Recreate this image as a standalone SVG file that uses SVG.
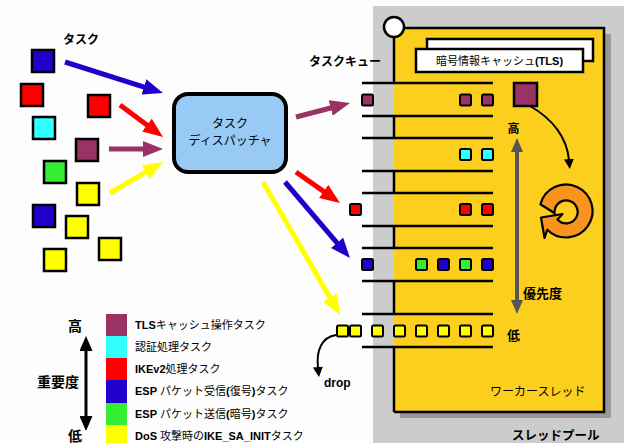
<svg xmlns="http://www.w3.org/2000/svg" width="624" height="443" viewBox="0 0 624 443">
<style>
text{font-family:"Liberation Sans","Noto Sans CJK JP",sans-serif;fill:#000}
.b{font-weight:bold}
.t{stroke:#000;stroke-width:2.5}
.s{stroke:#000;stroke-width:2}
.q{stroke:#000;stroke-width:2.5;fill:none}
.pu{fill:#993366}.cy{fill:#33ffff}.rd{fill:#ff0000}.bl{fill:#2200cc}.gr{fill:#33ee33}.ye{fill:#ffff00}
.arr{stroke-width:5;fill:none}
</style>
<defs>
<marker id="hPu" markerUnits="userSpaceOnUse" markerWidth="20" markerHeight="16" viewBox="0 0 20 16" refX="2" refY="8" orient="auto"><path d="M0,0L20,8L0,16Z" fill="#993366"/></marker>
<marker id="hRd" markerUnits="userSpaceOnUse" markerWidth="20" markerHeight="16" viewBox="0 0 20 16" refX="2" refY="8" orient="auto"><path d="M0,0L20,8L0,16Z" fill="#ff0000"/></marker>
<marker id="hBl" markerUnits="userSpaceOnUse" markerWidth="20" markerHeight="16" viewBox="0 0 20 16" refX="2" refY="8" orient="auto"><path d="M0,0L20,8L0,16Z" fill="#2200cc"/></marker>
<marker id="hYe" markerUnits="userSpaceOnUse" markerWidth="20" markerHeight="16" viewBox="0 0 20 16" refX="2" refY="8" orient="auto"><path d="M0,0L20,8L0,16Z" fill="#ffff00"/></marker>
<marker id="hK" markerUnits="userSpaceOnUse" markerWidth="10" markerHeight="10" viewBox="0 0 10 10" refX="1" refY="5" orient="auto"><path d="M0,0L10,5L0,10Z" fill="#000"/></marker>
<marker id="hG" markerUnits="userSpaceOnUse" markerWidth="14" markerHeight="12" viewBox="0 0 14 12" refX="1" refY="6" orient="auto-start-reverse"><path d="M0,0L14,6L0,12Z" fill="#555"/></marker>
<marker id="hL" markerUnits="userSpaceOnUse" markerWidth="15" markerHeight="13" viewBox="0 0 15 13" refX="1" refY="6.5" orient="auto-start-reverse"><path d="M0,0L15,6.5L0,13Z" fill="#000"/></marker>
</defs>
<rect width="624" height="443" fill="#fdfdfd"/>

<g id="thread-pool">
<rect x="373" y="6" width="251" height="437" fill="#cccccc"/>
<text x="512" y="440" font-size="12.5" class="b">スレッドプール</text>
</g>

<g id="worker-thread">
<rect x="400" y="34" width="211" height="384" fill="#999"/>
<rect x="394" y="28" width="210" height="384" fill="#fccf1f"/>
<path d="M394,28H604V412H394" class="q"/>
<path d="M394,37V83M394,116V138M394,171V193M394,226V248M394,281V314M394,347V412" class="q"/>
<circle cx="394" cy="27" r="10" fill="#fff" stroke="#000" stroke-width="2.5"/>
<text x="490" y="396" font-size="12">ワーカースレッド</text>
</g>

<g id="tls-cache">
<rect x="427" y="39" width="166" height="22" fill="#fff" class="t"/>
<rect x="416" y="49" width="167" height="23" fill="#fff" class="t"/>
<text x="499.5" y="65" font-size="11" text-anchor="middle">暗号情報キャッシュ<tspan class="b">(TLS)</tspan></text>
</g>

<g id="task-queue">
<text x="309" y="66" font-size="12" class="b">タスクキュー</text>
<path d="M362,83H493M362,116H493M362,138H493M362,171H493M362,193H493M362,226H493M362,248H493M362,281H493M362,314H493M362,347H493" class="q"/>
<g class="s">
<rect x="362" y="94.5" width="11" height="11" rx="1.5" class="pu"/>
<rect x="460" y="94.5" width="11" height="11" rx="1.5" class="pu"/>
<rect x="482" y="94.5" width="11" height="11" rx="1.5" class="pu"/>
<rect x="460" y="149" width="11" height="11" rx="1.5" class="cy"/>
<rect x="482" y="149" width="11" height="11" rx="1.5" class="cy"/>
<rect x="350" y="204" width="11" height="11" rx="1.5" class="rd"/>
<rect x="460" y="204" width="11" height="11" rx="1.5" class="rd"/>
<rect x="482" y="204" width="11" height="11" rx="1.5" class="rd"/>
<rect x="362" y="259" width="11" height="11" rx="1.5" class="bl"/>
<rect x="416" y="259" width="11" height="11" rx="1.5" class="gr"/>
<rect x="438" y="259" width="11" height="11" rx="1.5" class="bl"/>
<rect x="460" y="259" width="11" height="11" rx="1.5" class="gr"/>
<rect x="482" y="259" width="11" height="11" rx="1.5" class="bl"/>
<rect x="337" y="325.5" width="11" height="11" rx="1.5" class="ye"/>
<rect x="350" y="325.5" width="11" height="11" rx="1.5" class="ye"/>
<rect x="372" y="325.5" width="11" height="11" rx="1.5" class="ye"/>
<rect x="394" y="325.5" width="11" height="11" rx="1.5" class="ye"/>
<rect x="416" y="325.5" width="11" height="11" rx="1.5" class="ye"/>
<rect x="438" y="325.5" width="11" height="11" rx="1.5" class="ye"/>
<rect x="460" y="325.5" width="11" height="11" rx="1.5" class="ye"/>
<rect x="482" y="325.5" width="11" height="11" rx="1.5" class="ye"/>
</g>
</g>

<g id="active-task">
<rect x="514" y="83" width="23" height="23" class="pu t"/>
</g>

<g id="rotation">
<path d="M540.4,204.3A26.5,26.5 0 1 1 547.3,229.7L544.5,238L541,217.5L562.5,214L557.5,219.5A11.5,11.5 0 1 0 554.7,213.2Z" fill="#f7941d" stroke="#000" stroke-width="2.2" stroke-linejoin="round"/>
</g>

<g id="priority">
<line x1="517" y1="151" x2="517" y2="301" stroke="#555" stroke-width="4" marker-start="url(#hG)" marker-end="url(#hG)"/>
<text x="513.5" y="132.5" font-size="12" class="b" text-anchor="middle">高</text>
<text x="523" y="297.5" font-size="13" class="b">優先度</text>
<text x="513.5" y="340" font-size="13" class="b" text-anchor="middle">低</text>
</g>

<g id="dispatcher">
<rect x="174" y="94" width="112" height="78" rx="14" fill="#99c9f5" stroke="#000" stroke-width="4"/>
<text x="230" y="127.5" font-size="12" text-anchor="middle">タスク</text>
<text x="230" y="144.5" font-size="12" text-anchor="middle">ディスパッチャ</text>
</g>

<g id="tasks">
<text x="63" y="44" font-size="12" class="b">タスク</text>
<g class="t">
<rect x="32" y="50" width="22" height="22" class="bl"/>
<rect x="21" y="84" width="22" height="22" class="rd"/>
<rect x="88" y="95" width="22" height="22" class="rd"/>
<rect x="33" y="117" width="22" height="22" class="cy"/>
<rect x="76" y="139" width="22" height="22" class="pu"/>
<rect x="44" y="161" width="22" height="22" class="gr"/>
<rect x="77" y="183" width="22" height="22" class="ye"/>
<rect x="33" y="205" width="22" height="22" class="bl"/>
<rect x="66" y="216" width="22" height="22" class="ye"/>
<rect x="99" y="238" width="22" height="22" class="ye"/>
<rect x="44" y="249" width="22" height="22" class="ye"/>
</g>
</g>

<g id="connectors">
<line x1="65" y1="62" x2="145.8" y2="87.6" stroke="#2200cc" class="arr" marker-end="url(#hBl)"/>
<line x1="120" y1="105" x2="148.6" y2="126.3" stroke="#ff0000" class="arr" marker-end="url(#hRd)"/>
<line x1="109" y1="149" x2="145" y2="149" stroke="#993366" class="arr" marker-end="url(#hPu)"/>
<line x1="110" y1="193" x2="147.5" y2="171.1" stroke="#ffff00" class="arr" marker-end="url(#hYe)"/>
<line x1="296" y1="117" x2="332.6" y2="107.5" stroke="#993366" class="arr" marker-end="url(#hPu)"/>
<line x1="296" y1="172" x2="325.3" y2="192.6" stroke="#ff0000" class="arr" marker-end="url(#hRd)"/>
<line x1="285" y1="182" x2="338.3" y2="244.3" stroke="#2200cc" class="arr" marker-end="url(#hBl)"/>
<line x1="263" y1="182" x2="331" y2="299.4" stroke="#ffff00" class="arr" marker-end="url(#hYe)"/>
<path d="M530,106C553,119 567,138 569,160" fill="none" stroke="#000" stroke-width="2" marker-end="url(#hK)"/>
<path d="M336,335C322,337 316,350 318,368" fill="none" stroke="#000" stroke-width="2" marker-end="url(#hK)"/>
<text x="324" y="387" font-size="12" class="b">drop</text>
</g>

<g id="legend">
<rect x="106" y="314" width="21" height="22" class="pu"/>
<rect x="106" y="336" width="21" height="22" class="cy"/>
<rect x="106" y="358" width="21" height="22" class="rd"/>
<rect x="106" y="380" width="21" height="23" class="bl"/>
<rect x="106" y="403" width="21" height="22" class="gr"/>
<rect x="106" y="425" width="21" height="18" class="ye"/>
<text x="135" y="329" font-size="11"><tspan class="b">TLS</tspan>キャッシュ操作タスク</text>
<text x="135" y="351" font-size="11">認証処理タスク</text>
<text x="135" y="373" font-size="11"><tspan class="b">IKEv2</tspan>処理タスク</text>
<text x="135" y="395" font-size="11"><tspan class="b">ESP</tspan> パケット受信<tspan class="b">(</tspan>復号<tspan class="b">)</tspan>タスク</text>
<text x="135" y="418" font-size="11"><tspan class="b">ESP</tspan> パケット送信<tspan class="b">(</tspan>暗号<tspan class="b">)</tspan>タスク</text>
<text x="135" y="440" font-size="11"><tspan class="b">DoS</tspan> 攻撃時の<tspan class="b">IKE_SA_INIT</tspan>タスク</text>
<text x="75" y="331" font-size="14" class="b" text-anchor="middle">高</text>
<text x="75" y="441" font-size="14" class="b" text-anchor="middle">低</text>
<text x="37" y="387" font-size="14" class="b">重要度</text>
<line x1="86" y1="350" x2="86" y2="417" stroke="#000" stroke-width="3" marker-start="url(#hL)" marker-end="url(#hL)"/>
</g>
</svg>
